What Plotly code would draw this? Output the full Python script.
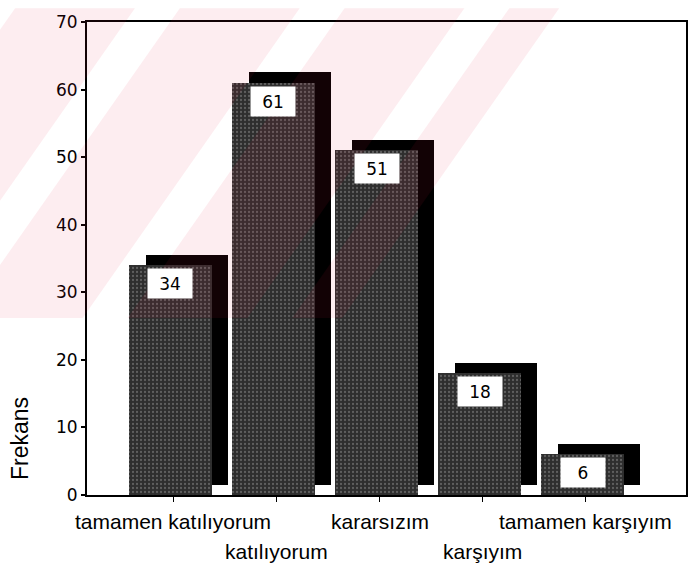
import plotly.graph_objects as go

# Likert response categories and their frequencies
categories = ["tamamen katılıyorum", "katılıyorum", "kararsızım", "karşıyım", "tamamen karşıyım"]
frequencies = [34, 61, 51, 18, 6]
y_ticks = [0, 10, 20, 30, 40, 50, 60, 70]

W, H = 700, 568
ML, MR, MT, MB = 87, 13, 14, 73
PW, PH = W - ML - MR, H - MT - MB

positions = list(range(len(categories)))
bar_width = 0.8
shadow_dx = 0.16      # shadow offset to the right (category units)
shadow_dy = 1.55      # shadow lift (value units)


def px(x):
    return (x - ML) / PW


def py(y):
    return (H - MB - y) / PH


fig = go.Figure()

# black drop-shadow bars, shifted right and up
fig.add_trace(go.Bar(
    x=[p + shadow_dx for p in positions], y=frequencies, base=shadow_dy,
    width=bar_width, marker=dict(color="#000000", line=dict(width=0)),
    hoverinfo="skip", showlegend=False,
))

# speckled grey front bars
fig.add_trace(go.Bar(
    x=positions, y=frequencies, width=bar_width,
    marker=dict(color="#2e2e2e", line=dict(width=0),
                pattern=dict(shape=".", fgcolor="#909090", bgcolor="#2e2e2e",
                             size=4, solidity=0.25)),
    showlegend=False,
))

annotations = []
# value boxes at the top of each bar
for p, v in zip(positions, frequencies):
    annotations.append(dict(
        x=p, y=v, xref="x", yref="y", text=str(v), showarrow=False,
        yanchor="top", yshift=-3, width=42, height=27,
        bgcolor="#ffffff", font=dict(family="DejaVu Sans", size=17, color="#000000"),
    ))

# staggered category labels
for i, (p, c) in enumerate(zip(positions, categories)):
    annotations.append(dict(
        x=p + 0.03, y=-0.055 if i % 2 == 0 else -0.12, xref="x", yref="paper",
        text=c, showarrow=False, yanchor="middle", xanchor="center",
        font=dict(family="Liberation Sans, Arial", size=21, color="#000000"),
    ))

annotations.append(dict(
    x=px(20), y=py(438), xref="paper", yref="paper", text="Frekans",
    showarrow=False, textangle=-90, xanchor="center", yanchor="middle",
    font=dict(family="Liberation Sans, Arial", size=23, color="#000000"),
))

# faint red diagonal watermark bands in the upper part of the page
shapes = []
slope = 0.69
band_top = 315
pink_bands = [(15, 135), (180, 300), (345, 465), (510, 560)]
for x0, x1 in pink_bands:
    pts = [(x0, 0), (x1, 0), (x1 - slope * band_top, band_top), (x0 - slope * band_top, band_top)]
    path = "M " + " L ".join(f"{px(a):.4f},{py(b):.4f}" for a, b in pts) + " Z"
    shapes.append(dict(type="path", xref="paper", yref="paper", path=path,
                       fillcolor="rgba(225,25,65,0.08)", line=dict(width=0), layer="above"))

fig.update_layout(
    width=W, height=H,
    margin=dict(l=ML, r=MR, t=MT, b=MB),
    paper_bgcolor="#ffffff", plot_bgcolor="#ffffff",
    barmode="overlay", bargap=0,
    annotations=annotations, shapes=shapes,
    xaxis=dict(range=[-0.809, 5.002], tickvals=[p + 0.03 for p in positions],
               showticklabels=False, ticks="outside", ticklen=5, tickcolor="#000000",
               showgrid=False, zeroline=False, showline=True, linecolor="#000000",
               linewidth=2, mirror=True),
    yaxis=dict(range=[0, 70], tickvals=y_ticks, ticks="outside", ticklen=4,
               tickcolor="#000000", tickwidth=2, showgrid=False, zeroline=False,
               showline=True, linecolor="#000000", linewidth=2, mirror=True,
               tickfont=dict(family="DejaVu Sans", size=17, color="#000000")),
)

fig.write_html("out.html")
